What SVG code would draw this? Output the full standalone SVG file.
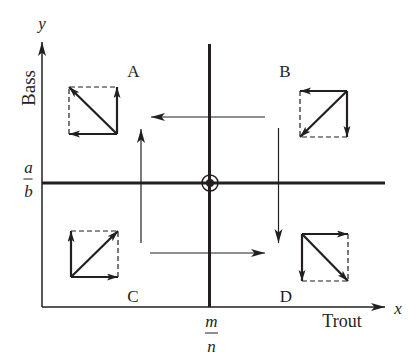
<svg xmlns="http://www.w3.org/2000/svg" width="408" height="364" viewBox="0 0 408 364">
<defs>
<marker id="big" markerUnits="userSpaceOnUse" markerWidth="14" markerHeight="9" refX="14" refY="4" orient="auto">
<path d="M0,0 L14,4 L0,8 L3.5,4 z" fill="#231f20"/>
</marker>
<marker id="small" markerUnits="userSpaceOnUse" markerWidth="11" markerHeight="8" refX="11" refY="3.5" orient="auto">
<path d="M0,0 L11,3.5 L0,7 L2.5,3.5 z" fill="#231f20"/>
</marker>
<style>
.ax{stroke:#231f20;stroke-width:1.5;fill:none}
.thick{stroke:#231f20;stroke-width:3;fill:none}
.thin{stroke:#231f20;stroke-width:1.2;fill:none}
.vec{stroke:#231f20;stroke-width:2.2;fill:none}
.dash{stroke:#231f20;stroke-width:1.2;fill:none;stroke-dasharray:5,3}
text{font-family:"Liberation Serif","Times New Roman",serif;fill:#231f20}
.lbl{font-size:17px;text-anchor:middle}
.it{font-style:italic;font-size:17px;text-anchor:middle}
</style>
</defs>
<rect width="408" height="364" fill="#fff"/>
<g id="axes">
<line class="ax" x1="42" y1="307" x2="42" y2="42" marker-end="url(#big)"/>
<line class="ax" x1="42" y1="307" x2="385" y2="307" marker-end="url(#big)"/>
<line class="thick" x1="209.5" y1="44" x2="209.5" y2="307"/>
<line class="thick" x1="42" y1="183" x2="385" y2="183"/>
<circle cx="210" cy="183" r="8" fill="none" stroke="#231f20" stroke-width="1.5"/>
<circle cx="210" cy="183" r="4" fill="#231f20"/>
<text class="it" x="42" y="29">y</text>
<text class="it" x="398" y="314">x</text>
<text x="342" y="327" font-size="18" text-anchor="middle">Trout</text>
<text x="0" y="0" font-size="19" text-anchor="middle" transform="translate(35,88) rotate(-90)">Bass</text>
<text class="it" x="211.5" y="327">m</text>
<line x1="205" y1="333" x2="218" y2="333" stroke="#231f20" stroke-width="1"/>
<text class="it" x="211.5" y="352">n</text>
<text class="it" x="28.5" y="173">a</text>
<line x1="23.5" y1="179" x2="32.5" y2="179" stroke="#231f20" stroke-width="1"/>
<text class="it" x="28.5" y="197">b</text>
</g>
<g id="connectors">
<line class="thin" x1="265" y1="117" x2="151" y2="117" marker-end="url(#big)"/>
<line class="thin" x1="141" y1="243" x2="141" y2="129" marker-end="url(#big)"/>
<line class="thin" x1="278.5" y1="128" x2="278.5" y2="243" marker-end="url(#big)"/>
<line class="thin" x1="150" y1="253" x2="265" y2="253" marker-end="url(#big)"/>
</g>
<g id="nodeA">
<text class="lbl" x="133.5" y="77">A</text>
<path class="dash" d="M69,134 V87 H117"/>
<line class="vec" x1="117" y1="134" x2="69" y2="134" marker-end="url(#small)"/>
<line class="vec" x1="117" y1="134" x2="117" y2="87" marker-end="url(#small)"/>
<line class="vec" x1="117" y1="134" x2="69" y2="87" marker-end="url(#small)"/>
</g>
<g id="nodeB">
<text class="lbl" x="285" y="77">B</text>
<path class="dash" d="M300,91 V137 H347"/>
<line class="vec" x1="347" y1="91" x2="300" y2="91" marker-end="url(#small)"/>
<line class="vec" x1="347" y1="91" x2="347" y2="137" marker-end="url(#small)"/>
<line class="vec" x1="347" y1="91" x2="300" y2="137" marker-end="url(#small)"/>
</g>
<g id="nodeC">
<text class="lbl" x="133" y="302">C</text>
<path class="dash" d="M71,231 H118 V277"/>
<line class="vec" x1="71" y1="277" x2="71" y2="231" marker-end="url(#small)"/>
<line class="vec" x1="71" y1="277" x2="118" y2="277" marker-end="url(#small)"/>
<line class="vec" x1="71" y1="277" x2="118" y2="231" marker-end="url(#small)"/>
</g>
<g id="nodeD">
<text class="lbl" x="286" y="302">D</text>
<path class="dash" d="M348,234 V281 H302"/>
<line class="vec" x1="302" y1="234" x2="348" y2="234" marker-end="url(#small)"/>
<line class="vec" x1="302" y1="234" x2="302" y2="281" marker-end="url(#small)"/>
<line class="vec" x1="302" y1="234" x2="348" y2="281" marker-end="url(#small)"/>
</g>
</svg>
